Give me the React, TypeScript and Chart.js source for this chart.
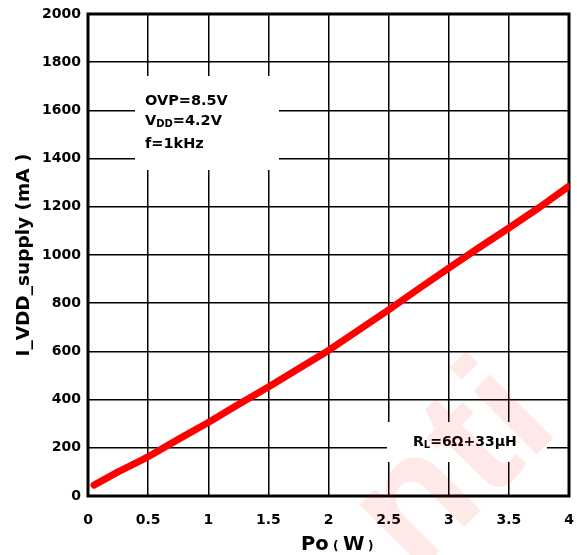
import React, { useEffect, useRef } from "react";
import { Chart, registerables } from "chart.js";

Chart.register(...registerables);

const poW = [0.05, 0.25, 0.45, 0.5, 0.75, 1.0, 1.25, 1.5, 1.75, 2.0, 2.25, 2.5, 2.75, 3.0, 3.25, 3.5, 3.75, 4.0];
const iSupply = [45, 100, 150, 163, 235, 305, 380, 452, 528, 604, 688, 772, 860, 946, 1030, 1112, 1196, 1286];
const xTicks = [0, 0.5, 1, 1.5, 2, 2.5, 3, 3.5, 4];
const yTicks = [0, 200, 400, 600, 800, 1000, 1200, 1400, 1600, 1800, 2000];
const noteLines = ["OVP=8.5V", "VDD=4.2V", "f=1kHz"];
const loadNote = "RL=6Ω+33μH";
const yTitle = "I_VDD_supply (mA )";

const FONT = "'DejaVu Sans', sans-serif";

function drawSub(ctx: CanvasRenderingContext2D, x: number, y: number, main: string, sub: string, rest: string, size: number) {
  ctx.font = `bold ${size}px ${FONT}`;
  ctx.fillText(main, x, y);
  let cx = x + ctx.measureText(main).width;
  ctx.font = `bold ${Math.round(size * 0.7)}px ${FONT}`;
  ctx.fillText(sub, cx, y + size * 0.25);
  cx += ctx.measureText(sub).width;
  ctx.font = `bold ${size}px ${FONT}`;
  ctx.fillText(rest, cx, y);
}

const decorPlugin = {
  id: "decor",
  beforeDatasetsDraw(chart: any) {
    const ctx = chart.ctx as CanvasRenderingContext2D;
    const { left, top, right, bottom } = chart.chartArea;
    ctx.save();
    ctx.fillStyle = "#ffffff";
    ctx.fillRect(135, 76, 144, 94);
    ctx.fillRect(387, 422, 160, 40);
    ctx.fillStyle = "#000";
    ctx.textBaseline = "middle";
    ctx.textAlign = "left";
    ctx.font = `bold 14.5px ${FONT}`;
    ctx.fillText(noteLines[0], 145, 101);
    drawSub(ctx, 145, 121, noteLines[1].slice(0, 1), noteLines[1].slice(1, 3), noteLines[1].slice(3), 14.5);
    ctx.font = `bold 14.5px ${FONT}`;
    ctx.fillText(noteLines[2], 145, 144);
    drawSub(ctx, 413, 442, loadNote.slice(0, 1), loadNote.slice(1, 2), loadNote.slice(2), 14);
    ctx.strokeStyle = "#000";
    ctx.lineWidth = 3;
    ctx.strokeRect(left, top, right - left, bottom - top);
    ctx.restore();
  },
  afterDraw(chart: any) {
    const ctx = chart.ctx as CanvasRenderingContext2D;
    ctx.save();
    ctx.globalAlpha = 0.09;
    ctx.fillStyle = "#ff0000";
    ctx.translate(455, 470);
    ctx.rotate(-Math.PI / 4);
    ctx.font = `bold 170px 'Liberation Sans', Arial, sans-serif`;
    ctx.textAlign = "center";
    ctx.textBaseline = "middle";
    ctx.fillText("nti", 0, 0);
    ctx.restore();
    ctx.save();
    ctx.fillStyle = "#000";
    ctx.textBaseline = "alphabetic";
    ctx.textAlign = "left";
    const parts: [string, number, number][] = [["Po", 19.5, 301], ["(", 12, 333], ["W", 19.5, 343], [")", 12, 368]];
    for (const [t, s, x] of parts) {
      ctx.font = `bold ${s}px ${FONT}`;
      ctx.fillText(t, x, 550);
    }
    ctx.restore();
  },
};

export default function App() {
  const ref = useRef<HTMLCanvasElement | null>(null);
  useEffect(() => {
    if (!ref.current) return;
    const chart = new Chart(ref.current, {
      type: "line",
      data: {
        datasets: [
          {
            data: poW.map((x, i) => ({ x, y: iSupply[i] })),
            borderColor: "#ff0000",
            borderWidth: 7,
            borderCapStyle: "round",
            borderJoinStyle: "round",
            pointRadius: 0,
            tension: 0,
            fill: false,
          },
        ],
      },
      options: {
        animation: false,
        responsive: false,
        maintainAspectRatio: false,
        layout: { padding: { top: 14, right: 8, left: 0, bottom: 0 } },
        plugins: { legend: { display: false }, tooltip: { enabled: false } },
        scales: {
          x: {
            type: "linear",
            min: 0,
            max: 4,
            afterBuildTicks: (s: any) => {
              s.ticks = xTicks.map((v) => ({ value: v }));
            },
            afterFit: (s: any) => {
              s.height = 59;
              s.paddingLeft = 0;
              s.paddingRight = 0;
            },
            grid: { color: "#000", lineWidth: 1.5, drawTicks: false },
            border: { display: false },
            ticks: {
              color: "#000",
              font: { family: FONT, size: 14, weight: "bold" },
              padding: 16,
              maxRotation: 0,
              callback: (v: any) => String(v),
            },
          },
          y: {
            type: "linear",
            min: 0,
            max: 2000,
            afterBuildTicks: (s: any) => {
              s.ticks = yTicks.map((v) => ({ value: v }));
            },
            afterFit: (s: any) => {
              s.width = 88;
              s.paddingTop = 0;
              s.paddingBottom = 0;
            },
            grid: { color: "#000", lineWidth: 1.5, drawTicks: false },
            border: { display: false },
            ticks: {
              color: "#000",
              font: { family: FONT, size: 14, weight: "bold" },
              padding: 7,
              callback: (v: any) => String(v),
            },
            title: {
              display: true,
              text: yTitle,
              color: "#000",
              font: { family: FONT, size: 18.5, weight: "bold" },
              padding: { top: 13, bottom: 0 },
            },
          },
        },
      },
      plugins: [decorPlugin],
    });
    return () => chart.destroy();
  }, []);
  return (
    <div style={{ position: "fixed", left: 0, top: 0, width: 577, height: 555, background: "#fff" }}>
      <canvas ref={ref} width={577} height={555} style={{ width: 577, height: 555 }} />
    </div>
  );
}
